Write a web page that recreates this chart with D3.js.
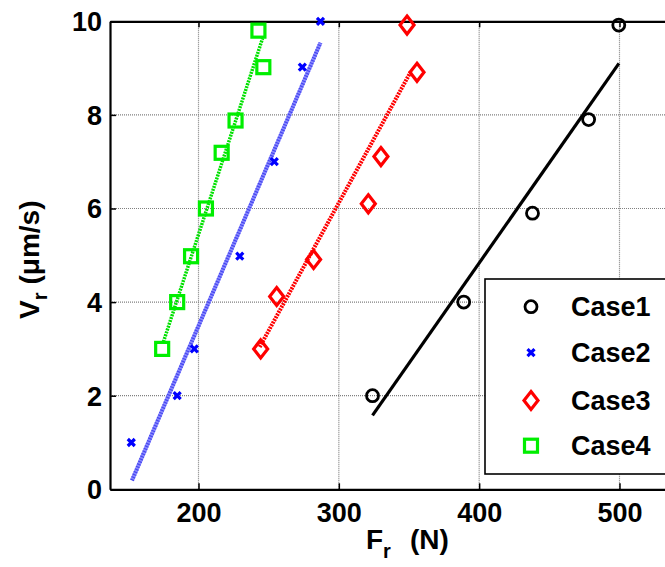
<!DOCTYPE html>
<html><head><meta charset="utf-8">
<script src="https://cdn.jsdelivr.net/npm/d3@7"></script>
<style>body{margin:0;background:#fff}svg{display:block}text{font-family:"Liberation Sans",Arial,sans-serif;font-weight:bold}</style>
</head><body>
<svg id="c" width="665" height="567"></svg>
<script>
const xTicks = [200, 300, 400, 500];
const yTicks = [0, 2, 4, 6, 8, 10];
const seriesNames = ["Case1", "Case2", "Case3", "Case4"];
const case1X = [324, 389, 438, 478, 499.5];
const case1Y = [2.0, 4.0, 5.9, 7.9, 9.92];
const case2X = [152.1, 184.8, 197, 229.4, 254, 274, 286.9];
const case2Y = [1.0, 2.0, 3.0, 4.98, 7.0, 9.02, 10.0];
const case3X = [244.3, 255.7, 282, 321, 330, 355.7, 348.6];
const case3Y = [3.0, 4.12, 4.91, 6.1, 7.11, 8.91, 9.92];
const case4X = [174.1, 184.8, 194.7, 205.3, 216.5, 226.4, 246.2, 242.7];
const case4Y = [3.0, 4.0, 4.98, 6.0, 7.19, 7.88, 9.02, 9.8];
// fitted lines (endpoints)
const fit1X = [324, 499.6], fit1Y = [1.58, 9.1];
const fit2X = [152.6, 286.9], fit2Y = [0.19, 9.54];
const fit3X = [243.6, 351.2], fit3Y = [3.04, 8.92];
const fit4X = [175, 245.7], fit4Y = [3.15, 9.64];

const svg = d3.select("#c");
const x = d3.scaleLinear().domain([136.93, 533]).range([110, 665.8]);
const y = d3.scaleLinear().domain([0, 10]).range([489.3, 21.3]);
const X0 = 110, X1 = 666, Y0 = 489.3, Y1 = 21.3;

// grid
const g = svg.append("g");
g.selectAll(".vg").data(xTicks).enter().append("line")
  .attr("x1", d => x(d)).attr("x2", d => x(d)).attr("y1", Y0).attr("y2", Y1)
  .attr("stroke", "#808080").attr("stroke-width", 1.2).attr("stroke-dasharray", "1,1");
g.selectAll(".hg").data(yTicks.filter(d => d > 0 && d < 10)).enter().append("line")
  .attr("y1", d => y(d)).attr("y2", d => y(d)).attr("x1", X0).attr("x2", X1)
  .attr("stroke", "#808080").attr("stroke-width", 1.2).attr("stroke-dasharray", "1,1");

// axes
const ax = svg.append("g").attr("transform", `translate(0,${Y0})`)
  .call(d3.axisBottom(x).tickValues(xTicks).tickSizeInner(-6).tickSizeOuter(0).tickPadding(14));
const ay = svg.append("g").attr("transform", `translate(${X0},0)`)
  .call(d3.axisLeft(y).tickValues(yTicks).tickSizeInner(-6).tickSizeOuter(0).tickPadding(8));
const at = svg.append("g").attr("transform", `translate(0,${Y1})`)
  .call(d3.axisTop(x).tickValues(xTicks).tickSizeInner(-6).tickSizeOuter(0).tickFormat(""));
[ax, ay, at].forEach(a => {
  a.select(".domain").attr("stroke", "#000").attr("stroke-width", 2.2);
  a.selectAll(".tick line").attr("stroke", "#000").attr("stroke-width", 1.5);
  a.selectAll("text").attr("font-size", 27).attr("fill", "#000")
   .style("font-family", '"Liberation Sans",Arial,sans-serif').style("font-weight", "bold");
});
ay.selectAll("text").attr("dy", "0.35em");

// fit lines
const line = d3.line().x(d => x(d[0])).y(d => y(d[1]));
const zip = (a, b) => a.map((v, i) => [v, b[i]]);
svg.append("path").attr("d", line(zip(fit1X, fit1Y))).attr("stroke", "#000").attr("stroke-width", 3.2).attr("fill", "none");
svg.append("path").attr("d", line(zip(fit2X, fit2Y))).attr("stroke", "#8a8aff").attr("stroke-width", 4).attr("fill", "none");
svg.append("path").attr("d", line(zip(fit2X, fit2Y))).attr("stroke", "#4646f0").attr("stroke-width", 4).attr("stroke-dasharray", "1.2,1.6").attr("fill", "none");
svg.append("path").attr("d", line(zip(fit3X, fit3Y))).attr("stroke", "#ff0000").attr("stroke-width", 4).attr("stroke-dasharray", "2,1").attr("fill", "none");
svg.append("path").attr("d", line(zip(fit4X, fit4Y))).attr("stroke", "#00e000").attr("stroke-width", 3.5).attr("stroke-dasharray", "2,1").attr("fill", "none");

// markers
function circle(sel) { sel.append("circle").attr("r", 6).attr("fill", "none").attr("stroke", "#000").attr("stroke-width", 2.8); }
function cross(sel) { sel.append("path").attr("d", "M-3.5,-3.5L3.5,3.5M-3.5,3.5L3.5,-3.5").attr("stroke", "#0000ff").attr("stroke-width", 3.2).attr("fill", "none"); }
function diamond(sel) { sel.append("path").attr("d", "M0,-9L7,0L0,9L-7,0Z").attr("stroke", "#ff0000").attr("stroke-width", 3.2).attr("fill", "none"); }
function square(sel) { sel.append("rect").attr("x", -6.5).attr("y", -6.5).attr("width", 13).attr("height", 13).attr("stroke", "#00ee00").attr("stroke-width", 3.2).attr("fill", "none"); }
const markers = [circle, cross, diamond, square];
const sets = [zip(case1X, case1Y), zip(case2X, case2Y), zip(case3X, case3Y), zip(case4X, case4Y)];
sets.forEach((pts, i) => {
  svg.append("g").selectAll("g").data(pts).enter().append("g")
    .attr("transform", d => `translate(${x(d[0])},${y(d[1])})`)
    .each(function () { markers[i](d3.select(this)); });
});

// legend
svg.append("rect").attr("x", 485).attr("y", 279).attr("width", 200).attr("height", 195)
  .attr("fill", "#fff").attr("stroke", "#000").attr("stroke-width", 1.6);
const rowY = [306.7, 352.7, 400.5, 445.7];
seriesNames.forEach((n, i) => {
  const lg = svg.append("g").attr("transform", `translate(531,${rowY[i]})`);
  markers[i](lg);
  svg.append("text").attr("x", 571).attr("y", rowY[i]).attr("dy", "0.36em")
    .attr("font-size", 27).text(n);
});

// axis titles
const xl = svg.append("text").attr("y", 549).attr("font-size", 28);
xl.append("tspan").attr("x", 366).text("F");
xl.append("tspan").attr("font-size", 20).attr("dy", 9).text("r");
xl.append("tspan").attr("x", 410).attr("dy", -9).attr("font-size", 28).text("(N)");

const yl = svg.append("text").attr("transform", "translate(39,319) rotate(-90)").attr("font-size", 28);
yl.append("tspan").text("V");
yl.append("tspan").attr("font-size", 20).attr("dy", 8).text("r");
yl.append("tspan").attr("dy", -8).attr("dx", 8).attr("font-size", 28).text("(μm/s)");
</script>
</body></html>
